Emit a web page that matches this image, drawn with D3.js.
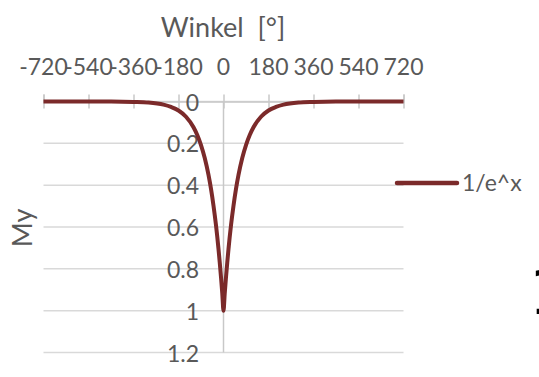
<!DOCTYPE html>
<html>
<head>
<meta charset="utf-8">
<script src="https://cdn.jsdelivr.net/npm/d3@7"></script>
<style>
  html, body { margin: 0; padding: 0; background: #fff; }
  svg { display: block; font-family: Lato, "Open Sans", sans-serif; }
</style>
</head>
<body>
<div id="chart"></div>
<script>
// angle in degrees
const winkel = [-720, -630, -540, -450, -360, -300, -240, -210, -180, -150, -120, -105, -90, -75, -60, -50, -40, -30, -20, -15, -10, -5,
    0, 5, 10, 15, 20, 30, 40, 50, 60, 75, 90, 105, 120, 150, 180, 210, 240, 300, 360, 450, 540, 630, 720];
// 1/e^x values
const my = [0, 0, 0, 0, 0.002, 0.005, 0.015, 0.026, 0.043, 0.073, 0.123, 0.16, 0.208, 0.27, 0.351, 0.418, 0.498, 0.592, 0.705, 0.77, 0.84, 0.916,
    1, 0.916, 0.84, 0.77, 0.705, 0.592, 0.498, 0.418, 0.351, 0.27, 0.208, 0.16, 0.123, 0.073, 0.043, 0.026, 0.015, 0.005, 0.002, 0, 0, 0, 0];
const xTicks = [-720, -540, -360, -180, 0, 180, 360, 540, 720];
const yTicks = [0, 0.2, 0.4, 0.6, 0.8, 1, 1.2];
const seriesName = "1/e^x";

const width = 539, height = 377;
const textColor = "#595959";
const lineColor = "#7b2a2a";

var svg = d3.select("#chart").append("svg")
    .attr("width", width)
    .attr("height", height);

var x = d3.scaleLinear().domain([-720, 720]).range([43.5, 403.5]);
var y = d3.scaleLinear().domain([0, 1.2]).range([101.5, 352.5]);

// horizontal gridlines
svg.append("g")
    .selectAll("line")
    .data(yTicks)
    .join("line")
    .attr("x1", x(-720)).attr("x2", x(720))
    .attr("y1", d => y(d)).attr("y2", d => y(d))
    .attr("stroke", "#d9d9d9")
    .attr("stroke-width", 1.5);

// vertical axis line at x = 0
svg.append("line")
    .attr("x1", x(0)).attr("x2", x(0))
    .attr("y1", y(0)).attr("y2", y(1.2))
    .attr("stroke", "#c8c8c8")
    .attr("stroke-width", 1.5);

// x axis on top (crossing ticks)
var xAxis = svg.append("g")
    .attr("transform", `translate(0, ${y(0)})`)
    .call(d3.axisTop(x).tickValues(xTicks).tickSize(7).tickFormat(""));
xAxis.select(".domain").attr("stroke", "#c8c8c8").attr("stroke-width", 1.5);
xAxis.selectAll(".tick line")
    .attr("stroke", "#c8c8c8")
    .attr("stroke-width", 1.5)
    .attr("y1", 7).attr("y2", -7);

// x tick labels
svg.append("g")
    .selectAll("text")
    .data(xTicks)
    .join("text")
    .attr("x", d => x(d))
    .attr("y", 75)
    .attr("text-anchor", "middle")
    .attr("font-size", 23)
    .attr("fill", textColor)
    .text(d => d);

// y tick labels
svg.append("g")
    .selectAll("text")
    .data(yTicks)
    .join("text")
    .attr("x", 199)
    .attr("y", d => y(d) + 9)
    .attr("text-anchor", "end")
    .attr("font-size", 23)
    .attr("fill", textColor)
    .text(d => d);

// the curve
var valueLine = d3.line()
    .x((d, i) => x(winkel[i]))
    .y(d => y(d))
    .curve(d3.curveMonotoneX);
svg.append("path")
    .datum(my)
    .attr("fill", "none")
    .attr("stroke", lineColor)
    .attr("stroke-width", 4)
    .attr("stroke-linejoin", "round")
    .attr("d", valueLine);

// axis titles
svg.append("text")
    .attr("x", 223)
    .attr("y", 37)
    .attr("text-anchor", "middle")
    .attr("font-size", 27)
    .attr("fill", textColor)
    .style("white-space", "pre")
    .text("Winkel  [°]");

svg.append("text")
    .attr("transform", "translate(32, 228) rotate(-90)")
    .attr("text-anchor", "middle")
    .attr("font-size", 27)
    .attr("fill", textColor)
    .text("My");

// legend
svg.append("line")
    .attr("x1", 397).attr("x2", 457)
    .attr("y1", 183).attr("y2", 183)
    .attr("stroke", lineColor)
    .attr("stroke-width", 4.5)
    .attr("stroke-linecap", "round");
svg.append("text")
    .attr("x", 462)
    .attr("y", 191)
    .attr("font-size", 23)
    .attr("fill", textColor)
    .text(seriesName);

// cut-off glyph at the right edge of the picture
svg.append("text")
    .attr("x", 529)
    .attr("y", 314)
    .attr("font-family", "DejaVu Sans")
    .attr("font-size", 62)
    .attr("fill", "#000")
    .text("1");
</script>
</body>
</html>
